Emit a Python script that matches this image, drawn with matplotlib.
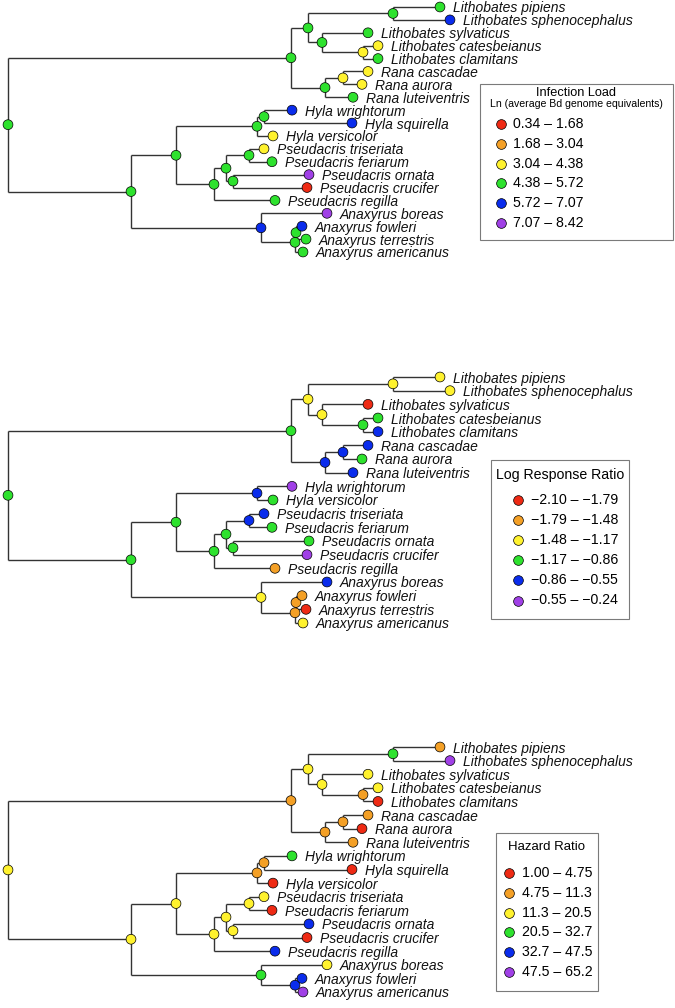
import matplotlib
matplotlib.use("Agg")
import matplotlib.pyplot as plt
from matplotlib.lines import Line2D
from matplotlib.patches import Rectangle

plt.rcParams["font.family"] = ["Liberation Sans", "DejaVu Sans"]

# amphibian phylogeny, branch lengths (relative units)
TREE_NEWICK = (
    "((((Lithobates_pipiens:47,Lithobates_sphenocephalus:57)PipSph:85,"
    "(Lithobates_sylvaticus:46,(Lithobates_catesbeianus:15,Lithobates_clamitans:15)CatClam:41)SylvCat:14)Lithobates:17,"
    "((Rana_cascadae:25,Rana_aurora:19)CascAur:18,Rana_luteiventris:28)Rana:34)Ranidae:283,"
    "((((Hyla_wrightorum:28,Hyla_squirella:88)WriSqu:7,Hyla_versicolor:16)Hyla:81,"
    "(((Pseudacris_triseriata:15,Pseudacris_feriarum:23)TriFer:23,(Pseudacris_ornata:76,Pseudacris_crucifer:74)OrnCru:7)PseInner:12,"
    "Pseudacris_regilla:61)Pseudacris:38)Hylidae:45,"
    "(Anaxyrus_boreas:66,((Anaxyrus_fowleri:6,Anaxyrus_terrestris:10)FowTer:1,Anaxyrus_americanus:8)AnaxAB:34)Anaxyrus:130)HylBuf:123)root;"
)

# bin index per tip / node (0 = lowest class ... 5 = highest class)
LOAD_BIN = {
    "Lithobates pipiens": 3, "Lithobates sphenocephalus": 4, "Lithobates sylvaticus": 3,
    "Lithobates catesbeianus": 2, "Lithobates clamitans": 3, "Rana cascadae": 2, "Rana aurora": 2,
    "Rana luteiventris": 3, "Hyla wrightorum": 4, "Hyla squirella": 4, "Hyla versicolor": 2,
    "Pseudacris triseriata": 2, "Pseudacris feriarum": 3, "Pseudacris ornata": 5,
    "Pseudacris crucifer": 0, "Pseudacris regilla": 3, "Anaxyrus boreas": 5, "Anaxyrus fowleri": 4,
    "Anaxyrus terrestris": 3, "Anaxyrus americanus": 3,
    "root": 3, "Ranidae": 3, "Lithobates": 3, "PipSph": 3, "SylvCat": 3, "CatClam": 2, "Rana": 3,
    "CascAur": 2, "HylBuf": 3, "Hylidae": 3, "Hyla": 3, "WriSqu": 3, "Pseudacris": 3,
    "PseInner": 3, "TriFer": 3, "OrnCru": 3, "Anaxyrus": 4, "AnaxAB": 3, "FowTer": 3,
}
LRR_BIN = {
    "Lithobates pipiens": 2, "Lithobates sphenocephalus": 2, "Lithobates sylvaticus": 0,
    "Lithobates catesbeianus": 3, "Lithobates clamitans": 4, "Rana cascadae": 4, "Rana aurora": 3,
    "Rana luteiventris": 4, "Hyla wrightorum": 5, "Hyla versicolor": 3,
    "Pseudacris triseriata": 4, "Pseudacris feriarum": 3, "Pseudacris ornata": 3,
    "Pseudacris crucifer": 5, "Pseudacris regilla": 1, "Anaxyrus boreas": 4, "Anaxyrus fowleri": 1,
    "Anaxyrus terrestris": 0, "Anaxyrus americanus": 2,
    "root": 3, "Ranidae": 3, "Lithobates": 2, "PipSph": 2, "SylvCat": 2, "CatClam": 3, "Rana": 4,
    "CascAur": 4, "HylBuf": 3, "Hylidae": 3, "Hyla": 4, "Pseudacris": 3,
    "PseInner": 3, "TriFer": 4, "OrnCru": 3, "Anaxyrus": 2, "AnaxAB": 1, "FowTer": 1,
}
HR_BIN = {
    "Lithobates pipiens": 1, "Lithobates sphenocephalus": 5, "Lithobates sylvaticus": 2,
    "Lithobates catesbeianus": 2, "Lithobates clamitans": 0, "Rana cascadae": 1, "Rana aurora": 0,
    "Rana luteiventris": 1, "Hyla wrightorum": 3, "Hyla squirella": 0, "Hyla versicolor": 0,
    "Pseudacris triseriata": 2, "Pseudacris feriarum": 0, "Pseudacris ornata": 4,
    "Pseudacris crucifer": 0, "Pseudacris regilla": 4, "Anaxyrus boreas": 2, "Anaxyrus fowleri": 4,
    "Anaxyrus americanus": 5,
    "root": 2, "Ranidae": 1, "Lithobates": 2, "PipSph": 3, "SylvCat": 2, "CatClam": 1, "Rana": 1,
    "CascAur": 1, "HylBuf": 2, "Hylidae": 2, "Hyla": 1, "WriSqu": 1, "Pseudacris": 2,
    "PseInner": 2, "TriFer": 2, "OrnCru": 2, "Anaxyrus": 3, "AnaxAB": 4,
}

LOAD_BREAKS = [0.34, 1.68, 3.04, 4.38, 5.72, 7.07, 8.42]
LRR_BREAKS = [-2.10, -1.79, -1.48, -1.17, -0.86, -0.55, -0.24]
HR_BREAKS = [1.00, 4.75, 11.3, 20.5, 32.7, 47.5, 65.2]

BIN_COLORS = ["#ee2a14", "#f4a026", "#fff22e", "#2ee22e", "#0a2cec", "#a040e6"]

W, H = 675, 1008
ROOT_PX = 8
LABEL_GAP = 13


def parse_newick(s):
    pos = 0

    def node():
        nonlocal pos
        children = []
        if s[pos] == "(":
            pos += 1
            children.append(node())
            while s[pos] == ",":
                pos += 1
                children.append(node())
            pos += 1
        start = pos
        while s[pos] not in ":,);":
            pos += 1
        name = s[start:pos].replace("_", " ")
        length = 0.0
        if s[pos] == ":":
            pos += 1
            start = pos
            while s[pos] not in ",);":
                pos += 1
            length = float(s[start:pos])
        return {"name": name, "length": length, "children": children}

    return node()


def prune(node, keep):
    # drop tips that are not in this data set, collapse single-child nodes
    if not node["children"]:
        return dict(node) if node["name"] in keep else None
    kids = [k for k in (prune(c, keep) for c in node["children"]) if k is not None]
    if not kids:
        return None
    if len(kids) == 1:
        only = dict(kids[0])
        only["length"] += node["length"]
        return only
    return {**node, "children": kids}


def layout(node, depth=0.0, tips=None):
    if tips is None:
        tips = []
    node["x"] = depth + node["length"]
    if node["children"]:
        for c in node["children"]:
            layout(c, node["x"], tips)
        node["y"] = (node["children"][0]["y"] + node["children"][-1]["y"]) / 2
    else:
        node["y"] = len(tips)
        tips.append(node)
    return tips


def all_nodes(node):
    yield node
    for c in node["children"]:
        yield from all_nodes(c)


def draw_tree(ax, tree, bins):
    for n in all_nodes(tree):
        if n["children"]:
            ys = [c["y"] for c in n["children"]]
            ax.vlines(n["x"], min(ys), max(ys), color="#333333", lw=1.0, zorder=1)
            for c in n["children"]:
                ax.hlines(c["y"], n["x"], c["x"], color="#333333", lw=1.0, zorder=1)
    nodes = list(all_nodes(tree))
    ax.scatter([n["x"] for n in nodes], [n["y"] for n in nodes],
               c=[BIN_COLORS[bins[n["name"]]] for n in nodes],
               s=50, edgecolors="black", linewidths=0.5, zorder=3, clip_on=False)
    for n in nodes:
        if not n["children"]:
            ax.text(n["x"] + LABEL_GAP, n["y"], n["name"], style="italic", fontsize=10,
                    va="center_baseline", ha="left", color="#111111")


def panel_axes(fig, first_px, last_px, n_tips):
    step = (last_px - first_px) / (n_tips - 1)
    top_px, bot_px = first_px - 20, last_px + 20
    ax = fig.add_axes([0, 1 - bot_px / H, 1, (bot_px - top_px) / H])
    ax.set_xlim(-ROOT_PX, W - ROOT_PX)
    ax.set_ylim((bot_px - first_px) / step, (top_px - first_px) / step)
    ax.axis("off")
    return ax


def fx(x):
    return x / W


def fy(y):
    return 1 - y / H


def draw_key(fig, box, title, title_size, subtitle, labels, row0, dy, dot_x, text_x):
    x0, y0, x1, y1 = box
    fig.add_artist(Rectangle((fx(x0), fy(y1)), (x1 - x0) / W, (y1 - y0) / H,
                             transform=fig.transFigure, fill=False, ec="#7a7a7a", lw=0.8))
    cx = (x0 + x1) / 2
    fig.text(fx(cx), fy(title[1]), title[0], fontsize=title_size, ha="center", va="center")
    if subtitle:
        fig.text(fx(cx), fy(subtitle[1]), subtitle[0], fontsize=7.6, ha="center", va="center")
    for i, lab in enumerate(labels):
        y = row0 + i * dy
        fig.add_artist(Line2D([fx(dot_x)], [fy(y)], marker="o", ms=7, mfc=BIN_COLORS[i],
                              mec="black", mew=0.5, transform=fig.transFigure))
        fig.text(fx(text_x), fy(y), lab, fontsize=10.2, ha="left", va="center")


def range_labels(breaks, fmt):
    out = []
    for a, b in zip(breaks[:-1], breaks[1:]):
        out.append(f"{format(a, fmt)} \u2013 {format(b, fmt)}".replace("-", "\u2212"))
    return out


fig = plt.figure(figsize=(W / 100, H / 100), dpi=100)
base = parse_newick(TREE_NEWICK)

panels = [
    (LOAD_BIN, 7, 252),
    (LRR_BIN, 377, 623),
    (HR_BIN, 747, 992),
]
for bins, first_px, last_px in panels:
    tree = prune(base, set(bins))
    tips = layout(tree)
    ax = panel_axes(fig, first_px, last_px, len(tips))
    draw_tree(ax, tree, bins)

draw_key(fig, (480, 84, 673, 240), ("Infection Load", 93), 9.2,
         ("Ln (average Bd genome equivalents)", 104),
         range_labels(LOAD_BREAKS, ".2f"), 124, 19.8, 501, 513)
draw_key(fig, (491, 460, 629, 619), ("Log Response Ratio", 475), 10.2, None,
         range_labels(LRR_BREAKS, ".2f"), 500, 20.1, 518, 531)
draw_key(fig, (496, 833, 598, 991), ("Hazard Ratio", 847), 9.5, None,
         range_labels(HR_BREAKS, "#.3g"), 873, 19.8, 509, 522)

fig.savefig("out.png", dpi=100)
